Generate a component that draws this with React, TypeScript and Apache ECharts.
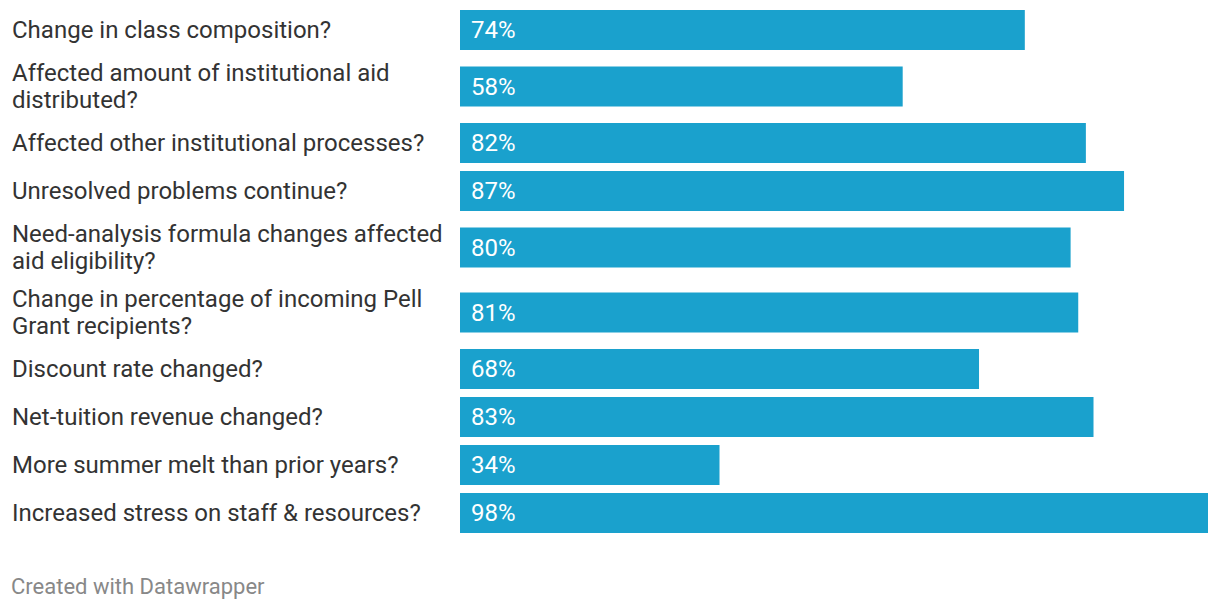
import React, { useEffect, useRef } from "react";
import * as echarts from "echarts";

const categories: string[] = [
  "Change in class composition?",
  "Affected amount of institutional aid\ndistributed?",
  "Affected other institutional processes?",
  "Unresolved problems continue?",
  "Need-analysis formula changes affected\naid eligibility?",
  "Change in percentage of incoming Pell\nGrant recipients?",
  "Discount rate changed?",
  "Net-tuition revenue changed?",
  "More summer melt than prior years?",
  "Increased stress on staff & resources?",
];
const values: number[] = [74, 58, 82, 87, 80, 81, 68, 83, 34, 98];

const FONT = "Roboto, 'Noto Sans', sans-serif";
const BAR_H = 40;
const LINE_H = 27;
const GAP = 8;
const FIRST_TOP = 10;
const GRID_H = 560;

export default function App() {
  const ref = useRef<HTMLDivElement>(null);
  useEffect(() => {
    if (!ref.current) return;
    const chart = echarts.init(ref.current, undefined, { renderer: "svg" });

    // layout: row heights depend on number of label lines
    const centers: number[] = [];
    let cursor = FIRST_TOP;
    categories.forEach((c) => {
      const lines = c.split("\n").length;
      const h = Math.max(BAR_H, lines * LINE_H + 3);
      centers.push(cursor + h / 2);
      cursor += h + GAP;
    });

    const data = values.map((v, i) => [v, centers[i], i]);

    chart.setOption({
      animation: false,
      grid: { left: 460, right: 12, top: 0, height: GRID_H, containLabel: false },
      xAxis: { type: "value", min: 0, max: 98, show: false },
      yAxis: { type: "value", min: 0, max: GRID_H, inverse: true, show: false },
      series: [
        {
          type: "custom",
          data,
          encode: { x: 0, y: 1 },
          renderItem: (params: any, api: any) => {
            const v = api.value(0);
            const cy = api.value(1);
            const idx = api.value(2);
            const start = api.coord([0, cy]);
            const end = api.coord([v, cy]);
            const h = api.size([0, BAR_H])[1];
            return {
              type: "group",
              children: [
                {
                  type: "rect",
                  shape: { x: start[0], y: start[1] - h / 2, width: end[0] - start[0], height: h },
                  style: { fill: "#1aa1cd" },
                },
                {
                  type: "text",
                  x: start[0] + 11,
                  y: start[1],
                  style: {
                    text: v + "%",
                    fill: "#ffffff",
                    font: `400 24px ${FONT}`,
                    verticalAlign: "middle",
                    align: "left",
                  },
                },
                {
                  type: "text",
                  x: 12,
                  y: start[1],
                  style: {
                    text: categories[idx],
                    fill: "#333333",
                    font: `400 24px ${FONT}`,
                    lineHeight: LINE_H,
                    verticalAlign: "middle",
                    align: "left",
                  },
                },
              ],
            };
          },
        },
      ],
      graphic: [
        {
          type: "text",
          x: 11,
          y: 586,
          style: {
            text: "Created with Datawrapper",
            fill: "#888888",
            font: `400 22px ${FONT}`,
            verticalAlign: "middle",
          },
        },
      ],
    });
    return () => chart.dispose();
  }, []);
  return (
    <div
      ref={ref}
      style={{ position: "absolute", left: 0, top: 0, width: 1220, height: 612, background: "#fff" }}
    />
  );
}
